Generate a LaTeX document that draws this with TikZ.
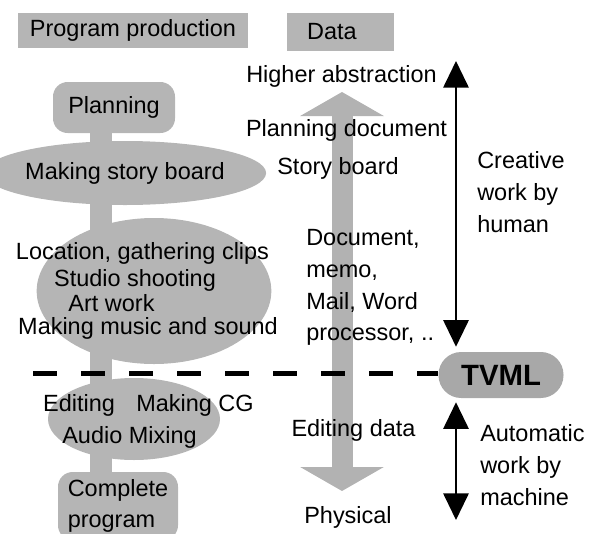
\documentclass[tikz,border=0pt]{standalone}
\usepackage{fontspec}
\setmainfont{Liberation Sans}
\usetikzlibrary{shapes.geometric, arrows.meta, backgrounds}
\definecolor{boxgray}{RGB}{181,181,181}
\definecolor{arrgray}{RGB}{178,178,178}
\definecolor{tvgray}{RGB}{168,168,168}
\tikzset{
  stage/.style={fill=boxgray, shape=ellipse, inner sep=0pt},
  rbox/.style={fill=boxgray, rounded corners=11pt, inner sep=0pt},
  hdr/.style={fill=boxgray, inner sep=0pt, minimum height=26pt},
  txt/.style={inner sep=0pt, align=left},
  dtip/.style={{Triangle[width=19pt,length=20pt]}-{Triangle[width=19pt,length=20pt]}},
}

\begin{document}
\begin{tikzpicture}[x=0.75pt, y=-0.75pt, font=\fontsize{17.6}{23.8}\selectfont]
    \useasboundingbox (0,0) rectangle (597,533);

    % column headings
    \node(prod)[hdr, minimum width=172.5pt] at (133,30.5) {Program production};
    \node(data)[hdr, minimum height=28.5pt, text width=50pt, inner xsep=15pt] at (340.5,32) {Data};

    % production stages
    \node(plan)[rbox, minimum width=91.5pt, minimum height=38.25pt] at (114,107.5) {Planning};
    \node(story)[stage, minimum width=165pt, minimum height=48pt] at (125,173) {Making story board};
    \node(shoot)[stage, minimum width=176pt, minimum height=109.5pt] at (154,291) {};
    \node(loc)[txt] at (142.5,253) {Location, gathering clips};
    \node(studio)[txt] at (135,280) {Studio shooting};
    \node(art)[txt] at (111.5,303) {Art work};
    \node(music)[txt] at (148,328) {Making music and sound};
    \node(edit)[stage, minimum width=129pt, minimum height=61.5pt] at (134,419) {};
    \node(editing)[txt] at (79,405) {Editing};
    \node(cg)[txt] at (195,405) {Making CG};
    \node(audio)[txt] at (129.5,437) {Audio Mixing};
    \node(done)[rbox, minimum width=90pt, minimum height=51pt, align=left] at (118,506) {Complete\\program};

    % spine behind the stages
    \coordinate(spine) at (101,0);
    \begin{scope}[on background layer]
        \draw[boxgray, line width=16.5pt] (plan.south -| spine) -- (done.north -| spine);
    \end{scope}

    % data column
    \coordinate(hi) at (342,92);
    \coordinate(lo) at (342,491);
    \draw[arrgray, line width=15.75pt,
        {Triangle[width=62pt,length=18pt]}-{Triangle[width=62pt,length=18pt]}] (hi) -- (lo);
    \node(higher)[txt] at (341.5,76) {Higher abstraction};
    \node(pdoc)[txt] at (346.5,130) {Planning document};
    \node(sboard)[txt] at (338,168) {Story board};
    \node(docs)[txt, anchor=west] at (306,287.5) {Document,\\memo,\\Mail, Word\\processor, ..};
    \node(edata)[txt] at (353.5,430) {Editing data};
    \node(phys)[txt] at (348,517) {Physical};

    % TVML and the split
    \node(tvml)[fill=tvgray, rounded corners=17pt, minimum width=93.75pt, minimum height=34.5pt,
        font=\fontsize{22}{26}\selectfont\bfseries] at (501,375) {TVML};
    \coordinate(dl) at (33,373);
    \draw[line width=3.75pt, dash pattern=on 18pt off 18pt] (dl) -- (dl -| tvml.west);

    \coordinate(top) at (456,61);
    \coordinate(bot) at (456,520);
    \draw[line width=1.5pt, dtip, shorten >=3.75pt] (top) -- (tvml.north -| top);
    \draw[line width=1.5pt, dtip, shorten <=3pt] (tvml.south -| bot) -- (bot);
    \node(human)[txt, anchor=west] at (477,192) {Creative\\work by\\human};
    \node(machine)[txt, anchor=west] at (480,465) {Automatic\\work by\\machine};
\end{tikzpicture}
\end{document}
